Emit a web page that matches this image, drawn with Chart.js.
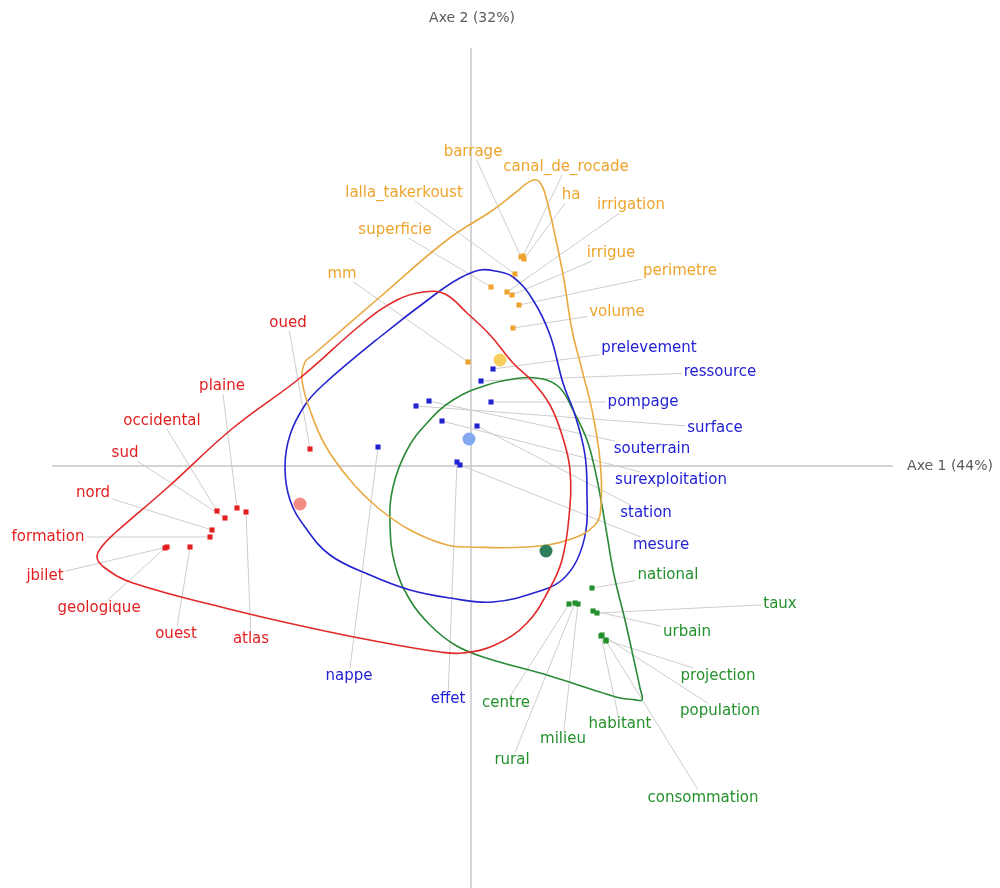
<!DOCTYPE html>
<html>
<head>
<meta charset="utf-8">
<script src="https://cdn.jsdelivr.net/npm/chart.js@4"></script>
<style>
html, body { margin: 0; padding: 0; background: #fff; overflow: hidden; }
#wrap { position: relative; width: 1000px; height: 888px; overflow: hidden; }
#wrap canvas { display: block; }
</style>
</head>
<body>
<div id="wrap"><canvas id="afc"></canvas></div>
<script>
// words of each class: coords on axe 1 / axe 2, then where the word is written
const redWords = ['oued', 'plaine', 'atlas', 'occidental', 'sud', 'nord', 'formation', 'jbilet', 'geologique', 'ouest'];
const redX = [-0.805, -1.170, -1.125, -1.270, -1.230, -1.295, -1.305, -1.520, -1.530, -1.405];
const redY = [0.085, -0.210, -0.230, -0.225, -0.260, -0.320, -0.355, -0.405, -0.410, -0.405];
const redLabelX = [-0.915, -1.245, -1.100, -1.545, -1.730, -1.890, -2.115, -2.130, -1.860, -1.475];
const redLabelY = [0.715, 0.400, -0.865, 0.225, 0.065, -0.135, -0.355, -0.550, -0.710, -0.840];

const orangeWords = ['barrage', 'canal_de_rocade', 'ha', 'lalla_takerkoust', 'superficie', 'irrigation', 'irrigue', 'perimetre', 'volume', 'mm'];
const orangeX = [0.250, 0.260, 0.265, 0.220, 0.100, 0.180, 0.205, 0.240, 0.210, -0.015];
const orangeY = [1.045, 1.050, 1.035, 0.960, 0.895, 0.870, 0.855, 0.805, 0.690, 0.520];
const orangeLabelX = [0.010, 0.475, 0.500, -0.335, -0.380, 0.800, 0.700, 1.045, 0.730, -0.645];
const orangeLabelY = [1.570, 1.495, 1.355, 1.365, 1.180, 1.305, 1.065, 0.975, 0.770, 0.960];

const blueWords = ['prelevement', 'ressource', 'pompage', 'surface', 'souterrain', 'surexploitation', 'station', 'mesure', 'nappe', 'effet'];
const blueX = [0.110, 0.050, 0.100, -0.275, -0.210, -0.145, 0.030, -0.055, -0.465, -0.070];
const blueY = [0.485, 0.425, 0.320, 0.300, 0.325, 0.225, 0.200, 0.005, 0.095, 0.020];
const blueLabelX = [0.890, 1.245, 0.860, 1.220, 0.905, 1.000, 0.875, 0.950, -0.610, -0.115];
const blueLabelY = [0.590, 0.470, 0.320, 0.190, 0.085, -0.070, -0.235, -0.395, -1.050, -1.165];

const greenWords = ['national', 'taux', 'urbain', 'projection', 'population', 'centre', 'rural', 'milieu', 'habitant', 'consommation'];
const greenX = [0.605, 0.630, 0.610, 0.675, 0.655, 0.490, 0.520, 0.535, 0.650, 0.675];
const greenY = [-0.610, -0.735, -0.725, -0.870, -0.845, -0.690, -0.685, -0.690, -0.850, -0.875];
const greenLabelX = [0.985, 1.545, 1.080, 1.235, 1.245, 0.175, 0.205, 0.460, 0.745, 1.160];
const greenLabelY = [-0.545, -0.690, -0.830, -1.050, -1.225, -1.185, -1.470, -1.365, -1.290, -1.660];

// class centres (orange, blue, red, green)
const centroidX = [0.145, -0.010, -0.855, 0.375];
const centroidY = [0.530, 0.135, -0.190, -0.425];

// outlines around each class
const redHullX = [-1.870, -1.835, -1.780, -1.520, -1.190, -0.855, -0.540, -0.370, -0.240, -0.130, -0.020, 0.095, 0.210, 0.310, 0.395, 0.455, 0.495, 0.490, 0.455, 0.395, 0.280, 0.120, -0.040, -0.155, -0.455, -0.755, -1.190, -1.690, -1.830];
const redHullY = [-0.455, -0.390, -0.335, -0.110, 0.190, 0.440, 0.715, 0.830, 0.870, 0.860, 0.765, 0.655, 0.515, 0.420, 0.305, 0.155, -0.020, -0.255, -0.470, -0.610, -0.785, -0.895, -0.935, -0.930, -0.880, -0.820, -0.720, -0.585, -0.510];
const orangeHullX = [0.310, 0.350, 0.385, 0.425, 0.465, 0.505, 0.555, 0.605, 0.645, 0.650, 0.620, 0.485, 0.280, -0.005, -0.120, -0.305, -0.470, -0.605, -0.730, -0.805, -0.845, -0.830, -0.790, -0.455, -0.120, 0.110, 0.220];
const orangeHullY = [1.430, 1.410, 1.305, 1.130, 0.930, 0.680, 0.480, 0.280, 0.030, -0.195, -0.295, -0.370, -0.405, -0.405, -0.395, -0.320, -0.205, -0.070, 0.105, 0.280, 0.430, 0.520, 0.555, 0.845, 1.130, 1.280, 1.365];
const blueHullX = [0.045, 0.120, 0.210, 0.310, 0.395, 0.460, 0.520, 0.570, 0.580, 0.575, 0.530, 0.455, 0.360, 0.110, -0.105, -0.305, -0.505, -0.705, -0.830, -0.905, -0.930, -0.905, -0.830, -0.740, -0.455, -0.170, -0.055];
const blueHullY = [0.980, 0.975, 0.945, 0.830, 0.655, 0.415, 0.255, 0.055, -0.145, -0.320, -0.470, -0.570, -0.620, -0.680, -0.660, -0.620, -0.545, -0.445, -0.305, -0.170, -0.005, 0.155, 0.305, 0.405, 0.645, 0.865, 0.940];
const greenHullX = [0.245, 0.360, 0.445, 0.510, 0.580, 0.620, 0.650, 0.680, 0.715, 0.770, 0.820, 0.845, 0.855, 0.815, 0.745, 0.645, 0.395, 0.060, -0.080, -0.205, -0.305, -0.380, -0.405, -0.390, -0.320, -0.220, -0.090, 0.080];
const greenHullY = [0.440, 0.435, 0.390, 0.280, 0.130, -0.020, -0.170, -0.345, -0.545, -0.770, -0.995, -1.110, -1.170, -1.168, -1.160, -1.130, -1.050, -0.955, -0.895, -0.795, -0.670, -0.495, -0.285, -0.105, 0.080, 0.215, 0.330, 0.405];

const axisTitles = ['Axe 1 (44%)', 'Axe 2 (32%)'];

let groups = [
    { words: redWords, x: redX, y: redY, lx: redLabelX, ly: redLabelY, hx: redHullX, hy: redHullY, color: '#e31e1e', line: '#e22828' },
    { words: orangeWords, x: orangeX, y: orangeY, lx: orangeLabelX, ly: orangeLabelY, hx: orangeHullX, hy: orangeHullY, color: '#eea42c', line: '#e8aa40' },
    { words: blueWords, x: blueX, y: blueY, lx: blueLabelX, ly: blueLabelY, hx: blueHullX, hy: blueHullY, color: '#2222d4', line: '#2323cf' },
    { words: greenWords, x: greenX, y: greenY, lx: greenLabelX, ly: greenLabelY, hx: greenHullX, hy: greenHullY, color: '#23902c', line: '#2a8a36' }
];
let centroidColors = ['#f8cf5c', '#84a9f2', '#f28b84', '#2f7f5f'];

function toPoints(xs, ys) {
    return xs.map((x, i) => ({ x: x, y: ys[i] }));
}

// closed smooth outline: wrap the ends so the spline has neighbours everywhere,
// then hide the two extra segments
function hullDataset(g) {
    let pts = toPoints(g.hx, g.hy);
    let n = pts.length;
    return {
        data: [pts[n - 1], ...pts, pts[0], pts[1]],
        showLine: true,
        borderColor: g.line,
        borderWidth: 1.6,
        pointRadius: 0,
        tension: 0.4,
        fill: false,
        segment: {
            borderColor: ctx => (ctx.p0DataIndex === 0 || ctx.p0DataIndex === n + 1) ? 'rgba(0,0,0,0)' : undefined
        }
    };
}

let datasets = [];
datasets.push({
    data: toPoints(centroidX, centroidY),
    pointRadius: 6.5,
    pointBackgroundColor: centroidColors,
    pointBorderColor: centroidColors,
    pointBorderWidth: 0
});
groups.forEach(g => {
    datasets.push({
        data: toPoints(g.x, g.y),
        pointStyle: 'rect',
        pointRadius: 3.6,
        pointBackgroundColor: g.color,
        pointBorderColor: g.color,
        pointBorderWidth: 0
    });
});
groups.forEach(g => datasets.push(hullDataset(g)));

const labelFont = '15px "DejaVu Sans", sans-serif';

let axesPlugin = {
    id: 'axes',
    beforeDatasetsDraw(chart) {
        let ctx = chart.ctx;
        let sx = chart.scales.x, sy = chart.scales.y;
        ctx.save();
        ctx.strokeStyle = '#c6c6c6';
        ctx.lineWidth = 1.5;
        ctx.beginPath();
        ctx.moveTo(sx.getPixelForValue(-2.095), sy.getPixelForValue(0));
        ctx.lineTo(sx.getPixelForValue(2.11), sy.getPixelForValue(0));
        ctx.moveTo(sx.getPixelForValue(0), sy.getPixelForValue(2.09));
        ctx.lineTo(sx.getPixelForValue(0), sy.getPixelForValue(-2.2));
        ctx.stroke();

        // leader lines from each word to its point
        ctx.font = labelFont;
        ctx.strokeStyle = '#cdcdcd';
        ctx.lineWidth = 1;
        groups.forEach(g => {
            g.words.forEach((w, i) => {
                let px = sx.getPixelForValue(g.x[i]), py = sy.getPixelForValue(g.y[i]);
                let lx = sx.getPixelForValue(g.lx[i]), ly = sy.getPixelForValue(g.ly[i]);
                let hw = ctx.measureText(w).width / 2 + 2, hh = 8;
                let dx = px - lx, dy = py - ly;
                let t = Math.min(dx ? hw / Math.abs(dx) : Infinity, dy ? hh / Math.abs(dy) : Infinity);
                if (t >= 1) return;
                ctx.beginPath();
                ctx.moveTo(lx + dx * t, ly + dy * t);
                ctx.lineTo(px, py);
                ctx.stroke();
            });
        });
        ctx.restore();
    },
    afterDatasetsDraw(chart) {
        let ctx = chart.ctx;
        let sx = chart.scales.x, sy = chart.scales.y;
        ctx.save();
        ctx.textAlign = 'center';
        ctx.textBaseline = 'middle';
        ctx.font = labelFont;
        groups.forEach(g => {
            ctx.fillStyle = g.color;
            g.words.forEach((w, i) => {
                ctx.fillText(w, sx.getPixelForValue(g.lx[i]), sy.getPixelForValue(g.ly[i]));
            });
        });
        ctx.fillStyle = '#5a5a5a';
        ctx.font = '14px "DejaVu Sans", sans-serif';
        ctx.fillText(axisTitles[0], sx.getPixelForValue(2.395), sy.getPixelForValue(0));
        ctx.fillText(axisTitles[1], sx.getPixelForValue(0.005), sy.getPixelForValue(2.24));
        ctx.restore();
    }
};

let afcChart = new Chart(document.getElementById('afc'), {
    type: 'scatter',
    data: { datasets: datasets },
    options: {
        responsive: true,
        maintainAspectRatio: false,
        animation: false,
        events: [],
        layout: { padding: 0, autoPadding: false },
        plugins: {
            legend: { display: false },
            tooltip: { enabled: false }
        },
        scales: {
            x: { type: 'linear', min: -2.355, max: 2.645, display: false },
            y: { type: 'linear', min: -2.11, max: 2.33, display: false }
        }
    },
    plugins: [axesPlugin]
});
</script>
</body>
</html>
